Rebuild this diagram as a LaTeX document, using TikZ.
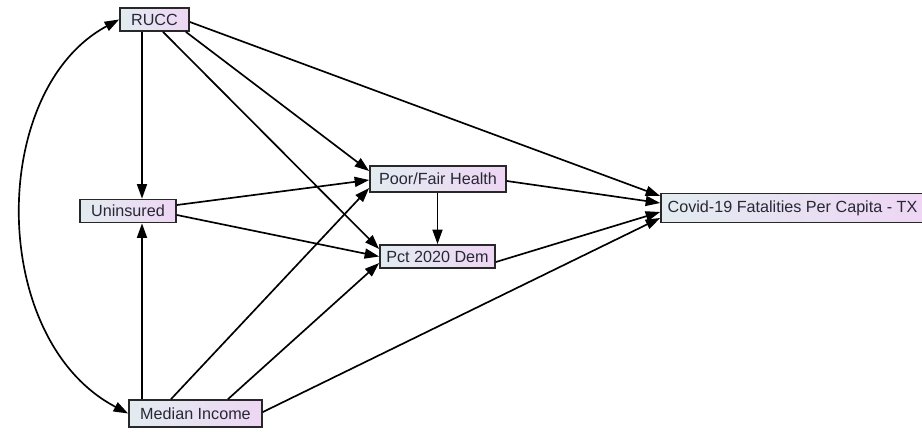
\documentclass[tikz,border=0pt]{standalone}
\usepackage{fontspec}
\setmainfont{Liberation Sans}
\usetikzlibrary{arrows.meta,calc}
\definecolor{boxleft}{RGB}{226,236,240}
\definecolor{boxright}{RGB}{238,214,244}
\definecolor{boxline}{RGB}{40,40,40}
\definecolor{boxtext}{RGB}{40,40,52}
\begin{document}
\begin{tikzpicture}[
    var/.style={rectangle, draw=boxline, line width=1pt, left color=boxleft,
                right color=boxright, minimum height=0.46cm, inner sep=2pt,
                text=boxtext, font=\fontsize{9.2}{11}\selectfont},
    arr/.style={-{Triangle[length=2.9mm,width=2mm]}, line width=0.95pt},
    biarr/.style={{Triangle[length=2.9mm,width=2mm]}-{Triangle[length=2.9mm,width=2mm]}, line width=0.95pt},
    x=0.02cm, y=-0.02cm
]
\useasboundingbox (0,0) rectangle (922,436);

%% Variabili
\node[var, minimum width=1.38cm] (rucc) at (154.5,19.5) {RUCC};
\node[var, minimum width=1.92cm] (unins) at (128,211) {Uninsured};
\node[var, minimum width=2.72cm, minimum height=0.52cm] (health) at (438,179) {Poor/Fair Health};
\node[var, minimum width=2.30cm] (dem) at (437.5,256.5) {Pct 2020 Dem};
\node[var, minimum width=5.26cm, minimum height=0.58cm] (covid) at (792.5,208) {Covid-19 Fatalities Per Capita - TX};
\node[var, minimum width=2.66cm, minimum height=0.54cm] (income) at (195.5,413.5) {Median Income};

%% Archi da RUCC
\draw[arr] ($(rucc.south)+(-12.5,0)$) -- ($(unins.north)+(14,0)$);
\draw[arr] ($(rucc.south east)+(-4,0)$) -- ($(health.west)+(0,-8)$);
\draw[arr] ($(rucc.south)+(8.5,0)$) -- ($(dem.west)+(0,-7.5)$);
\draw[arr] ($(rucc.east)+(0,2.5)$) -- ($(covid.west)+(0,-12)$);

%% Archi da Uninsured
\draw[arr] ($(unins.east)+(0,-6)$) -- ($(health.west)+(0,1)$);
\draw[arr] ($(unins.east)+(0,4)$) -- (dem.west);

%% Archi centrali
\draw[arr] (dem.north |- health.south) -- (dem.north);
\draw[arr] ($(health.east)+(0,2)$) -- ($(covid.west)+(0,-5)$);
\draw[arr] ($(dem.east)+(0,5.5)$) -- ($(covid.west)+(0,4)$);

%% Archi da Median Income
\draw[arr] ($(income.north)+(-53.5,0)$) -- ($(unins.south)+(14,0)$);
\draw[arr] ($(income.north)+(-24.5,0)$) -- ($(health.west)+(0,9)$);
\draw[arr] ($(income.north)+(32.5,0)$) -- ($(dem.west)+(0,6.5)$);
\draw[arr] ($(income.east)+(0,-1.5)$) -- ($(covid.west)+(0,10)$);

%% Correlazione RUCC -- Median Income
\draw[biarr] (rucc.west) .. controls (-12,90) and (-12,340) .. (income.west);

\end{tikzpicture}
\end{document}
